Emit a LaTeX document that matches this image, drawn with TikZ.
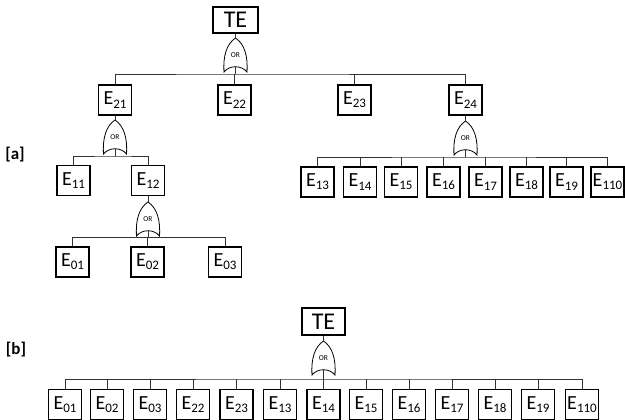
\documentclass[tikz,border=0pt]{standalone}
\usepackage{fontspec}
\setmainfont{Carlito}
\newcommand\evt[1]{E\raisebox{-3.2pt}{\fontsize{13}{13}\selectfont#1}}
\begin{document}
\begin{tikzpicture}[x=1pt,y=-1pt,
 ebox/.style={draw, line width=1.3pt, minimum width=33pt, minimum height=30pt, inner sep=1.2pt, font=\fontsize{20}{20}\selectfont},
 tebox/.style={draw, line width=1.3pt, minimum width=45pt, minimum height=26pt, inner sep=1pt, font=\fontsize{24}{24}\selectfont},
 conn/.style={line width=0.9pt, draw=black!80},
 lab/.style={font=\fontsize{17}{17}\selectfont\bfseries},
 orgate/.pic={
   \draw[line width=0.8pt] (0,0) .. controls (-9,6) and (-12.5,18) .. (-11.5,34)
      .. controls (-6,27) and (6,27) .. (11.5,34)
      .. controls (12.5,18) and (9,6) .. (0,0) -- cycle;
   \node[font=\fontsize{7.5}{7.5}\selectfont, inner sep=0] at (0,17) {OR};
   \coordinate (-top) at (0,0);
   \coordinate (-bot) at (0,28.75);
 }]
\useasboundingbox (0,0) rectangle (625,420);

% ---------- [a] ----------
\node[lab] (la) at (15,155) {[a]};
\node[tebox] (te) at (235.5,20) {TE};
\pic (g0) at (235.5,38) {orgate};
\coordinate (b0) at (235.5,74);

\node[ebox] (a21) at (115,100) {\evt{21}};
\node[ebox] (a22) at (234.5,100) {\evt{22}};
\node[ebox] (a23) at (354.5,100) {\evt{23}};
\node[ebox] (a24) at (465.5,100) {\evt{24}};

\pic (g1) at (115,120) {orgate};
\coordinate (b1) at (115,156);
\node[ebox] (a11) at (73.5,180.5) {\evt{11}};
\node[ebox] (a12) at (148,180.5) {\evt{12}};

\pic (g2) at (148,202) {orgate};
\coordinate (b2) at (148,237.5);
\node[ebox] (a01) at (72.5,262) {\evt{01}};
\node[ebox] (a02) at (147.5,262) {\evt{02}};
\node[ebox] (a03) at (225,262) {\evt{03}};

\pic (g3) at (465.5,121) {orgate};
\coordinate (b3) at (465.5,157);
\node[ebox] (a13) at (317.5,182) {\evt{13}};
\node[ebox] (a14) at (360,182) {\evt{14}};
\node[ebox] (a15) at (401,182) {\evt{15}};
\node[ebox] (a16) at (443.5,182) {\evt{16}};
\node[ebox] (a17) at (485.5,182) {\evt{17}};
\node[ebox] (a18) at (526.5,182) {\evt{18}};
\node[ebox] (a19) at (566.5,182) {\evt{19}};
\node[ebox] (a110) at (607.5,182) {\evt{110}};

\draw[conn] (te.south) -- (g0-top);
\draw[conn] (g0-bot) -- (b0);
\draw[conn] (a21.north) |- (b0) -| (a24.north);
\draw[conn] (a22.north) -- (a22.north |- b0);
\draw[conn] (a23.north) -- (a23.north |- b0);

\draw[conn] (a21.south) -- (g1-top);
\draw[conn] (g1-bot) -- (b1);
\draw[conn] (a11.north) |- (b1) -| (a12.north);

\draw[conn] (a12.south) -- (g2-top);
\draw[conn] (g2-bot) -- (b2);
\draw[conn] (a01.north) |- (b2) -| (a03.north);
\draw[conn] (a02.north) -- (a02.north |- b2);

\draw[conn] (a24.south) -- (g3-top);
\draw[conn] (g3-bot) -- (b3);
\draw[conn] (a13.north) |- (b3) -| (a110.north);
\foreach \n in {a14,a15,a16,a17,a18,a19}
  \draw[conn] (\n.north) -- (\n.north |- b3);

% ---------- [b] ----------
\node[lab] (lb) at (16,350) {[b]};
\node[tebox, minimum width=43pt, minimum height=27pt] (teb) at (323.5,321.5) {TE};
\pic (gb) at (323.5,341) {orgate};
\coordinate (bb) at (323.5,379);

\node[ebox] (b01) at (65,404.5) {\evt{01}};
\node[ebox] (b02) at (107,404.5) {\evt{02}};
\node[ebox] (b03) at (150,404.5) {\evt{03}};
\node[ebox] (b22) at (193,404.5) {\evt{22}};
\node[ebox] (b23) at (236.5,404.5) {\evt{23}};
\node[ebox] (b13) at (280,404.5) {\evt{13}};
\node[ebox] (b14) at (323.5,404.5) {\evt{14}};
\node[ebox] (b15) at (366,404.5) {\evt{15}};
\node[ebox] (b16) at (409,404.5) {\evt{16}};
\node[ebox] (b17) at (452,404.5) {\evt{17}};
\node[ebox] (b18) at (495,404.5) {\evt{18}};
\node[ebox] (b19) at (538,404.5) {\evt{19}};
\node[ebox] (b110) at (582,404.5) {\evt{110}};

\draw[conn] (teb.south) -- (gb-top);
\draw[conn] (gb-bot) -- (bb);
\draw[conn] (b01.north) |- (bb) -| (b110.north);
\foreach \n in {b02,b03,b22,b23,b13,b14,b15,b16,b17,b18,b19}
  \draw[conn] (\n.north) -- (\n.north |- bb);
\end{tikzpicture}
\end{document}
